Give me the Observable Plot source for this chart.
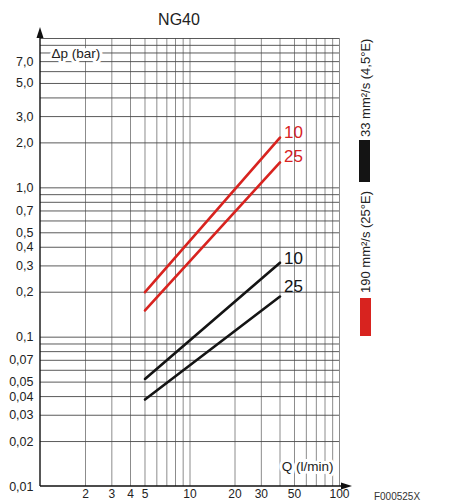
<!DOCTYPE html>
<html>
<head>
<meta charset="utf-8">
<script src="https://cdn.jsdelivr.net/npm/d3@7"></script>
<script src="https://cdn.jsdelivr.net/npm/@observablehq/plot@0.6"></script>
<style>
  html, body { margin: 0; padding: 0; background: #fff; }
  #chart svg { display: block; }
</style>
</head>
<body>
<div id="chart"></div>
<script>
// ---- data ----
const title = "NG40";
const flowQ = [5, 40];                 // Q (l/min) at start / end of each curve
const red10 = [0.2, 2.17];             // 190 mm²/s, size 10
const red25 = [0.151, 1.48];           // 190 mm²/s, size 25
const black10 = [0.0525, 0.315];       // 33 mm²/s, size 10
const black25 = [0.0382, 0.187];       // 33 mm²/s, size 25
const seriesNames = ["red10", "red25", "black10", "black25"];
const seriesLabels = ["10", "25", "10", "25"];
const xTicks = [2, 3, 4, 5, 10, 20, 30, 50, 100];
const xTickLabels = ["2", "3", "4", "5", "10", "20", "30", "50", "100"];
const yTicks = [0.01, 0.02, 0.03, 0.04, 0.05, 0.07, 0.1, 0.2, 0.3, 0.4, 0.5, 0.7, 1, 2, 3, 5, 7];
const yTickLabels = ["0,01", "0,02", "0,03", "0,04", "0,05", "0,07", "0,1", "0,2", "0,3", "0,4", "0,5", "0,7", "1,0", "2,0", "3,0", "5,0", "7,0"];
const xGrid = [2, 3, 4, 5, 6, 7, 8, 9, 10, 20, 30, 40, 50, 60, 70, 80, 90, 100];
const yGrid = [0.02, 0.03, 0.04, 0.05, 0.06, 0.07, 0.08, 0.09, 0.1, 0.2, 0.3, 0.4, 0.5, 0.6, 0.7, 0.8, 0.9, 1, 2, 3, 4, 5, 6, 7, 8, 9, 10];
const xLabel = "Q (l/min)";
const yLabel = "Δp (bar)";
const legendItems = ["33 mm²/s (4,5°E)", "190 mm²/s (25°E)"];
const figureCode = "F000525X";

// ---- styles ----
const RED = "#d8231f", BLACK = "#141414";
const seriesValues = {red10, red25, black10, black25};
const seriesStyle = {
  red10: {color: RED, dy: -5},
  red25: {color: RED, dy: -6},
  black10: {color: BLACK, dy: -4},
  black25: {color: BLACK, dy: -10}
};

const rows = [];
seriesNames.forEach((name) => {
  seriesValues[name].forEach((v, i) => rows.push({key: name, q: flowQ[i], dp: v, color: seriesStyle[name].color}));
});
const ends = seriesNames.map((name, i) => ({
  key: name, q: flowQ[flowQ.length - 1], dp: seriesValues[name][seriesValues[name].length - 1], label: seriesLabels[i]
}));
const yTickRows = yTicks.map((t, i) => ({v: t, label: yTickLabels[i]}));
const xTickRows = xTicks.map((t, i) => ({v: t, label: xTickLabels[i]}));

const FONT = "'Liberation Sans', Arial, Helvetica, sans-serif";

const chart = Plot.plot({
  width: 450,
  height: 501,
  marginLeft: 40,
  marginRight: 111,
  marginTop: 38,
  marginBottom: 15,
  x: {type: "log", domain: [1, 100], axis: null},
  y: {type: "log", domain: [0.01, 10], axis: null},
  color: {type: "identity"},
  style: {fontFamily: FONT, fontSize: "12.5px", color: "#222", background: "#fff", overflow: "visible"},
  marks: [
    Plot.ruleX(xGrid, {stroke: "#8c8c8c", strokeWidth: 1}),
    Plot.ruleY(yGrid, {stroke: "#474747", strokeWidth: 0.9}),
    Plot.text(xTickRows, {x: "v", text: "label", frameAnchor: "bottom", dy: 7.5, lineAnchor: "middle",
      fontSize: 12, fill: "#222"}),
    Plot.text(yTickRows, {y: "v", text: "label", frameAnchor: "left", dx: -7, textAnchor: "end",
      lineAnchor: "middle", fontSize: 12.5, fill: "#222"}),
    Plot.line(rows, {x: "q", y: "dp", z: "key", stroke: "color", strokeWidth: 2.6}),
    ...seriesNames.map((name) =>
      Plot.text(ends.filter(e => e.key === name), {
        x: "q", y: "dp", text: "label", fill: seriesStyle[name].color,
        fontSize: 17, textAnchor: "start", lineAnchor: "middle", dx: 4, dy: seriesStyle[name].dy
      })
    ),
    Plot.text([yLabel], {text: d => d, frameAnchor: "top-left", dx: 11, dy: 15, textAnchor: "start",
      lineAnchor: "middle", fontSize: 13.5, fill: "#222", stroke: "white", strokeWidth: 6}),
    Plot.text([xLabel], {text: d => d, frameAnchor: "bottom-right", dx: -6, dy: -20, textAnchor: "end",
      lineAnchor: "middle", fontSize: 13.5, fill: "#222", stroke: "white", strokeWidth: 6}),
    Plot.text([title], {text: d => d, frameAnchor: "top", dx: -11, dy: -19, lineAnchor: "middle",
      fontSize: 16, fill: "#222"})
  ]
});

document.getElementById("chart").appendChild(chart);

// ---- axis arrows and side legend, positioned from the plot's scales ----
const svg = d3.select(chart);
const sx = chart.scale("x"), sy = chart.scale("y");
const x0 = sx.apply(1), x1 = sx.apply(100);
const y0 = sy.apply(0.01), y1 = sy.apply(10);
const g = svg.append("g");
g.append("line").attr("x1", x0).attr("x2", x1 + 4).attr("y1", y0).attr("y2", y0)
  .attr("stroke", "#111").attr("stroke-width", 1.4);
g.append("path").attr("d", `M${x1 + 13},${y0} L${x1 + 2},${y0 - 3.5} L${x1 + 2},${y0 + 3.5} Z`).attr("fill", "#111");
g.append("line").attr("x1", x0).attr("x2", x0).attr("y1", y0).attr("y2", y1 - 2)
  .attr("stroke", "#111").attr("stroke-width", 1.4);
g.append("path").attr("d", `M${x0},${y1 - 11} L${x0 - 3.5},${y1} L${x0 + 3.5},${y1} Z`).attr("fill", "#111");

const lg = svg.append("g").attr("font-family", FONT).attr("font-size", 13).attr("fill", "#222");
const lx = x1 + 26;
lg.append("text").attr("transform", `translate(${lx},${y1 + 99}) rotate(-90)`)
  .attr("text-anchor", "start").attr("dominant-baseline", "central").text(legendItems[0]);
lg.append("rect").attr("x", lx - 6).attr("y", y1 + 102).attr("width", 11).attr("height", 42).attr("fill", BLACK);
lg.append("text").attr("transform", `translate(${lx},${y1 + 255}) rotate(-90)`)
  .attr("text-anchor", "start").attr("dominant-baseline", "central").text(legendItems[1]);
lg.append("rect").attr("x", lx - 5).attr("y", y1 + 260).attr("width", 11).attr("height", 38).attr("fill", RED);

svg.append("text").attr("x", 397).attr("y", 496).attr("font-family", FONT).attr("font-size", 10)
  .attr("fill", "#333").attr("dominant-baseline", "central").text(figureCode);
</script>
</body>
</html>
